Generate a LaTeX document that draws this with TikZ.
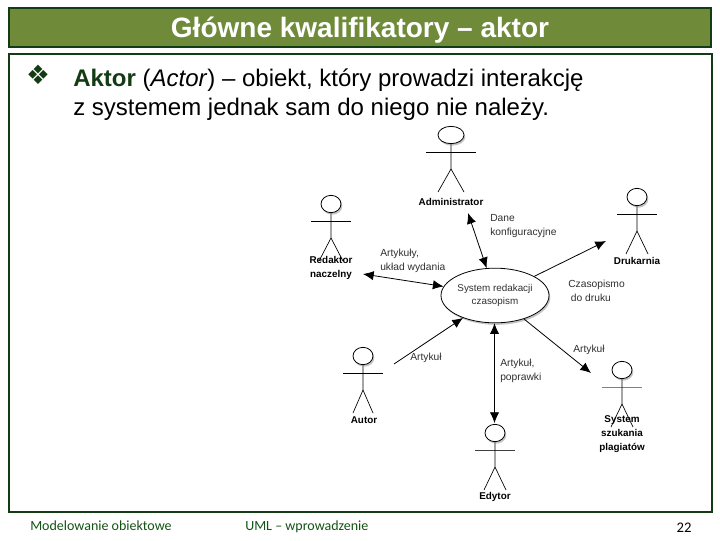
\documentclass[tikz,border=0pt]{standalone}
\usepackage{fontspec}
\setmainfont{Liberation Sans}
\newfontfamily\footfont{Carlito}
\newfontfamily\symfont{DejaVu Sans}
\usepackage{xcolor}
\usetikzlibrary{arrows.meta,shapes.geometric,shadows}
\definecolor{titlegreen}{HTML}{6F8B3A}
\definecolor{darkgreen}{HTML}{143C14}
\definecolor{footgreen}{HTML}{145214}
\definecolor{textgray}{HTML}{303030}
\tikzset{
  blob/.style={ellipse,draw=black,fill=white,inner sep=0pt,line width=0.6pt,
    drop shadow={shadow xshift=1pt,shadow yshift=-1.5pt,opacity=0.45}},
  flow/.style={-{Latex[length=8pt,width=7pt]},line width=0.6pt},
  both/.style={{Latex[length=8pt,width=7pt]}-{Latex[length=8pt,width=7pt]},line width=0.6pt},
  actorname/.style={font=\fontsize{7.4}{10.2}\selectfont\bfseries,align=center,inner sep=0pt,text=black},
  flowname/.style={font=\fontsize{7.7}{10.4}\selectfont,align=left,inner sep=0pt,text=textgray}
}
\begin{document}
\begin{tikzpicture}[x=0.75pt,y=-0.75pt]
  \useasboundingbox (0,0) rectangle (720,540);
  \fill[white] (0,0) rectangle (720,540);
  \draw[darkgreen,fill=titlegreen,line width=0.8pt] (9,8) rectangle (711,47);
  \node[text=white,font=\fontsize{21}{24}\selectfont\bfseries] (title) at (360,30) {Główne kwalifikatory – aktor};
  \draw[darkgreen,line width=0.8pt] (9,54) rectangle (712,512);
  \node[text=darkgreen,font=\fontsize{20}{24}\symfont,inner sep=0pt] (bullet) at (38,75) {❖};
  \node[anchor=north west,align=left,inner sep=0pt,font=\fontsize{18}{21.75}\selectfont,text=black] (intro) at (73,68.5)
    {\textcolor{darkgreen}{\textbf{Aktor}} (\textit{Actor}) – obiekt, który prowadzi interakcję\\z systemem jednak sam do niego nie należy.};
  % actors: name/x/head y/head rx/half arm/half legs/arm colour
  \foreach \name/\x/\y/\rx/\arm/\leg/\col in {admin/451/135/13/25/13/black,
      redaktor/331/204/10/20/12/black,drukarnia/637/197/10/20/11/black,
      autor/363/356/10/20/10/black,plagiat/622/370/10/20/11/gray,edytor/495/433/10/20/11/darkgray}{
    \draw[\col,line width=0.55pt] (\x-\arm,\y+17) -- (\x+\arm,\y+17);
    \draw[line width=0.5pt] (\x,\y+9) -- (\x,\y+34) -- (\x-\leg,\y+57);
    \draw[line width=0.5pt] (\x,\y+34) -- (\x+\leg,\y+57);
    \node[blob,minimum width=2*\rx*0.75pt,minimum height=13pt] (\name) at (\x,\y) {};
  }
  \node[actorname] (adminname) at (451,202) {Administrator};
  \node[actorname] (redaktorname) at (331,268) {Redaktor\\naczelny};
  \node[actorname] (drukarnianame) at (637,261) {Drukarnia};
  \node[actorname] (autorname) at (364,420) {Autor};
  \node[actorname] (plagiatname) at (622,434) {System\\szukania\\plagiatów};
  \node[actorname] (edytorname) at (495,497) {Edytor};
  \node[blob,minimum width=81pt,minimum height=41pt,align=center,
    font=\fontsize{7.4}{10.2}\selectfont,text=textgray] (sys) at (495,295.5) {System redakacji\\czasopism};
  % free ends next to the actors
  \coordinate (adminend) at (468,213);
  \coordinate (redaktorend) at (363,274);
  \coordinate (drukarniaend) at (606,241);
  \coordinate (autorend) at (394,364);
  \coordinate (plagiatend) at (591,373);
  \coordinate (edytorend) at (494.5,423);
  \draw[both] (adminend) -- (sys.107);
  \draw[both] (redaktorend) -- (sys.170);
  \draw[flow] (sys.26) -- (drukarniaend);
  \draw[flow] (autorend) -- (sys.215);
  \draw[flow] (sys.-39) -- (plagiatend);
  \draw[both] (edytorend) -- (edytorend |- sys.south);
  \node[flowname,anchor=west] (dane) at (490,226) {Dane\\konfiguracyjne};
  \node[flowname,anchor=west] (artykuly) at (380,261) {Artykuły,\\układ wydania};
  \node[flowname,anchor=west] (czasopismo) at (568,290.5) {Czasopismo\\\hspace*{2pt}do druku};
  \node[flowname,anchor=west] (artykulautor) at (410,358) {Artykuł};
  \node[flowname,anchor=west] (artykulplagiat) at (573,350) {Artykuł};
  \node[flowname,anchor=west] (poprawki) at (500,371) {Artykuł,\\poprawki};
  \node[text=footgreen,anchor=base west,inner sep=0pt,font=\fontsize{10.5}{12}\footfont] (footleft) at (30,530) {Modelowanie obiektowe};
  \node[text=footgreen,anchor=base west,inner sep=0pt,font=\fontsize{10.5}{12}\footfont] (footmid) at (245,530) {UML – wprowadzenie};
  \node[text=black,inner sep=0pt,font=\fontsize{11}{12}\footfont] (pagenr) at (684,528) {22};
\end{tikzpicture}
\end{document}
